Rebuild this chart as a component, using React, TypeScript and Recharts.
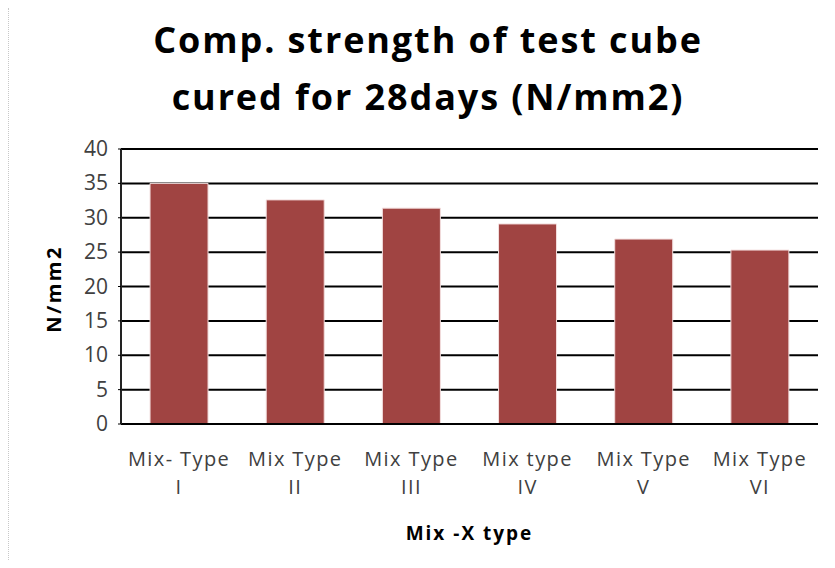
import { BarChart, Bar, XAxis, YAxis, CartesianGrid } from 'recharts';

const categories = ['Mix- Type|I', 'Mix Type|II', 'Mix Type|III', 'Mix type|IV', 'Mix Type|V', 'Mix Type|VI'];
const strength = [35, 32.6, 31.4, 29.1, 26.9, 25.3];
const yTicks = [0, 5, 10, 15, 20, 25, 30, 35, 40];

const data = categories.map((name, i) => ({ name, value: strength[i] }));

const FONT = "'Open Sans', 'Noto Sans', sans-serif";
const BAR = '#A04442';

function CategoryTick({ x, y, payload }: any) {
  const [line1, line2] = String(payload.value).split('|');
  return (
    <g transform={`translate(${x},${y})`}>
      <text textAnchor="middle" fill="#404040" fontSize={20} fontFamily={FONT} letterSpacing={1.4}>
        <tspan x={0} y={34}>{line1}</tspan>
        <tspan x={0} y={62}>{line2}</tspan>
      </text>
    </g>
  );
}

function ValueTick({ x, y, payload }: any) {
  return (
    <text x={x - 8} y={y + 7} textAnchor="end" fill="#404040" fontSize={21} fontFamily={FONT}>
      {payload.value}
    </text>
  );
}

export default function App() {
  return (
    <div style={{ position: 'relative', width: 819, height: 552, borderLeft: '1px dotted #c8c8c8', boxSizing: 'border-box' }}>
      <div
        style={{
          position: 'absolute', left: 0, top: 3, width: 838, textAlign: 'center',
          fontFamily: FONT, fontWeight: 700, fontSize: 36, lineHeight: '57px', letterSpacing: 1.9, color: '#000',
        }}
      >
        Comp. strength of test cube
        <br />
        cured for 28days (N/mm2)
      </div>
      <div
        style={{
          position: 'absolute', left: 44, top: 281, transform: 'translate(-50%, -50%) rotate(-90deg)',
          fontFamily: FONT, fontWeight: 700, fontSize: 20, letterSpacing: 2.5, color: '#000', whiteSpace: 'nowrap',
        }}
      >
        N/mm2
      </div>
      <div
        style={{
          position: 'absolute', left: 112, top: 512, width: 697, textAlign: 'center',
          fontFamily: FONT, fontWeight: 700, fontSize: 19, letterSpacing: 2, color: '#000',
        }}
      >
        Mix -X type
      </div>
      <BarChart
        width={818}
        height={552}
        data={data}
        margin={{ top: 141, right: 9, left: 0, bottom: 0 }}
        barCategoryGap="25%"
      >
        <CartesianGrid horizontal vertical={false} stroke="#000" strokeWidth={2} yAxisId="left" />
        <XAxis
          dataKey="name"
          height={136}
          tick={<CategoryTick />}
          tickLine={false}
          axisLine={{ stroke: '#000', strokeWidth: 2 }}
          interval={0}
        />
        <YAxis
          yAxisId="left"
          width={112}
          domain={[0, 40]}
          ticks={yTicks}
          tick={<ValueTick />}
          tickLine={{ stroke: '#000' }}
          tickSize={3}
          axisLine={{ stroke: '#222', strokeWidth: 2 }}
        />
        <YAxis
          yAxisId="right"
          orientation="right"
          width={0}
          domain={[0, 40]}
          tick={false}
          tickLine={false}
          axisLine={{ stroke: '#c8c8c8', strokeDasharray: '2 2' }}
        />
        <Bar yAxisId="left" dataKey="value" fill={BAR} stroke="#f3dede" strokeWidth={1} isAnimationActive={false} />
      </BarChart>
    </div>
  );
}
